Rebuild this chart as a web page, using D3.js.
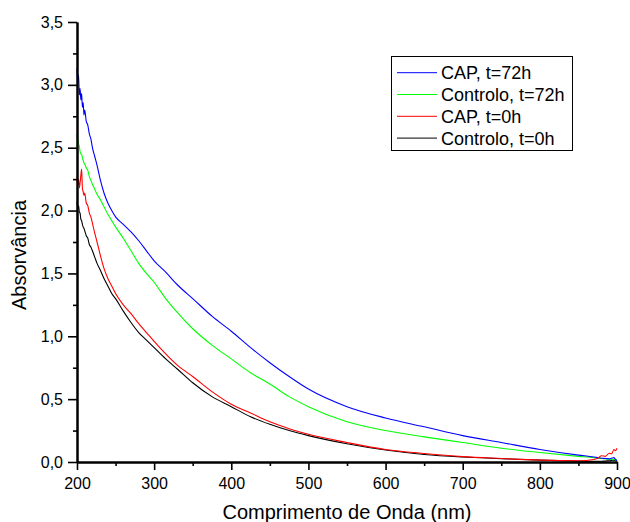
<!DOCTYPE html>
<html>
<head>
<meta charset="utf-8">
<script src="https://cdn.jsdelivr.net/npm/d3@7"></script>
<style>
  html, body { margin: 0; padding: 0; background: #fff; }
  svg { display: block; font-family: "Liberation Sans", Arial, sans-serif; }
</style>
</head>
<body>
<svg id="chart" width="630" height="522"></svg>
<script>
// ---- data ----
const wavelength = [200,201,202,203,204,205,206,207,208,209,210,212,214,216,218,220,223,226,230,235,240,245,250,260,270,280,290,300,315,330,350,375,400,425,450,475,500,550,600,650,700,750,800,850,870,875,880,885,890,893,896,898,900];

const capT72 = [3.13,3.02,3.08,2.92,2.97,2.88,2.93,2.82,2.86,2.76,2.80,2.71,2.68,2.61,2.57,2.50,2.43,2.36,2.25,2.14,2.06,2.00,1.95,1.89,1.83,1.76,1.68,1.60,1.51,1.41,1.30,1.16,1.04,0.91,0.79,0.68,0.58,0.44,0.35,0.28,0.21,0.155,0.10,0.055,0.04,0.035,0.03,0.028,0.025,0.03,0.035,0.02,0.01];

const controloT72 = [2.61,2.56,2.53,2.51,2.47,2.45,2.45,2.42,2.40,2.38,2.37,2.34,2.32,2.27,2.24,2.21,2.17,2.13,2.09,2.03,1.97,1.92,1.87,1.78,1.68,1.58,1.50,1.43,1.30,1.19,1.06,0.93,0.82,0.71,0.62,0.52,0.44,0.32,0.25,0.20,0.155,0.11,0.075,0.045,0.034,0.03,0.028,0.025,0.023,0.02,0.02,0.018,0.015];

const capT0 = [2.27,2.20,2.25,2.18,2.22,2.28,2.33,2.18,2.15,2.12,2.14,2.06,2.04,1.98,1.95,1.90,1.82,1.75,1.65,1.54,1.46,1.40,1.34,1.25,1.18,1.10,1.03,0.96,0.86,0.77,0.68,0.56,0.46,0.39,0.32,0.265,0.22,0.155,0.10,0.068,0.043,0.028,0.015,0.01,0.02,0.03,0.05,0.045,0.07,0.065,0.10,0.09,0.11];

const controloT0 = [2.07,2.02,2.04,1.99,1.98,1.93,1.92,1.89,1.87,1.86,1.84,1.80,1.78,1.73,1.71,1.68,1.63,1.58,1.53,1.46,1.40,1.34,1.30,1.20,1.11,1.03,0.97,0.91,0.82,0.74,0.63,0.52,0.44,0.36,0.30,0.25,0.21,0.145,0.095,0.06,0.04,0.027,0.015,0.007,0.005,0.005,0.006,0.008,0.01,0.012,0.015,0.01,0.008];

const seriesNames = ["CAP, t=72h", "Controlo, t=72h", "CAP, t=0h", "Controlo, t=0h"];
const seriesColors = ["#0000ff", "#00ff00", "#ff0000", "#000000"];
const seriesValues = [capT72, controloT72, capT0, controloT0];
const drawOrder = [3, 1, 0, 2];

const xMajorTicks = [200,300,400,500,600,700,800,900];
const xMinorTicks = [250,350,450,550,650,750,850];
const yMajorTicks = [0,0.5,1.0,1.5,2.0,2.5,3.0,3.5];
const yMinorTicks = [0.25,0.75,1.25,1.75,2.25,2.75,3.25];

const xTitle = "Comprimento de Onda (nm)";
const yTitle = "Absorvância";

// ---- chart ----
const svg = d3.select("#chart");
const x = d3.scaleLinear().domain([200, 900]).range([77, 617]);
const y = d3.scaleLinear().domain([0, 3.5]).range([462, 22]);

const fmtY = d => d.toFixed(1).replace(".", ",");

// curves
const line = d3.line().x(d => x(d[0])).y(d => y(d[1])).curve(d3.curveMonotoneX);
const curves = svg.append("g");
drawOrder.forEach(i => {
  const pts = wavelength.map((w, k) => [w, seriesValues[i][k]]);
  curves.append("path")
    .attr("d", line(pts))
    .attr("fill", "none")
    .attr("stroke", seriesColors[i])
    .attr("stroke-width", 1.1)
    .attr("stroke-linejoin", "round");
});

// axes
function styleAxis(g) {
  g.select(".domain").attr("stroke", "#000").attr("stroke-width", 2);
  g.selectAll(".tick line").attr("stroke", "#000").attr("stroke-width", 1.6);
  g.selectAll(".tick text").attr("fill", "#000").attr("font-size", 16)
    .attr("font-family", "Liberation Sans, Arial, sans-serif");
}

const xAxisMinor = svg.append("g").attr("transform", `translate(0,${y(0)})`)
  .call(d3.axisBottom(x).tickValues(xMinorTicks).tickSize(4).tickSizeOuter(0).tickFormat(""));
styleAxis(xAxisMinor);
const xAxis = svg.append("g").attr("transform", `translate(0,${y(0)})`)
  .call(d3.axisBottom(x).tickValues(xMajorTicks).tickSize(8).tickSizeOuter(0).tickPadding(8).tickFormat(d3.format("d")));
styleAxis(xAxis);

const yAxisMinor = svg.append("g").attr("transform", `translate(${x(200)},0)`)
  .call(d3.axisLeft(y).tickValues(yMinorTicks).tickSize(4).tickSizeOuter(0).tickFormat(""));
styleAxis(yAxisMinor);
const yAxis = svg.append("g").attr("transform", `translate(${x(200)},0)`)
  .call(d3.axisLeft(y).tickValues(yMajorTicks).tickSize(9).tickSizeOuter(0).tickPadding(5).tickFormat(fmtY));
styleAxis(yAxis);

// titles
svg.append("text")
  .attr("x", (x(200) + x(900)) / 2)
  .attr("y", 519)
  .attr("text-anchor", "middle")
  .attr("font-size", 20)
  .text(xTitle);

svg.append("text")
  .attr("transform", `translate(26,255) rotate(-90)`)
  .attr("text-anchor", "middle")
  .attr("font-size", 20)
  .text(yTitle);

// legend
const legend = svg.append("g");
legend.append("rect")
  .attr("x", 391.5).attr("y", 56.5)
  .attr("width", 181).attr("height", 94)
  .attr("fill", "#fff").attr("stroke", "#000").attr("stroke-width", 1);
seriesNames.forEach((name, i) => {
  const ly = 72.7 + i * 21.8;
  legend.append("line")
    .attr("x1", 397).attr("x2", 437)
    .attr("y1", ly).attr("y2", ly)
    .attr("stroke", seriesColors[i]).attr("stroke-width", 1);
  legend.append("text")
    .attr("x", 441).attr("y", ly + 6.5)
    .attr("font-size", 18)
    .text(name);
});
</script>
</body>
</html>
